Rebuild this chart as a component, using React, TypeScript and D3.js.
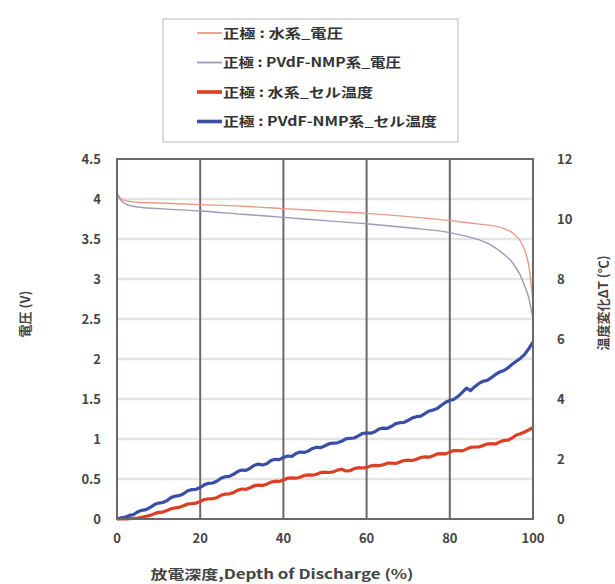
import React from "react";
import * as d3 from "d3";

// depth of discharge (%) for the voltage curves
const dodV = [0, 1, 2, 5, 10, 20, 30, 40, 50, 60, 70, 80, 85, 88, 90, 93, 95, 97, 98, 99, 99.5, 100];
const voltAqueous = [4.07, 4.0, 3.98, 3.96, 3.95, 3.93, 3.91, 3.88, 3.85, 3.82, 3.78, 3.73, 3.7, 3.68, 3.67, 3.63, 3.58, 3.47, 3.36, 3.16, 2.96, 2.7];
const voltPvdf = [4.07, 3.98, 3.94, 3.9, 3.88, 3.85, 3.81, 3.77, 3.73, 3.69, 3.64, 3.58, 3.52, 3.47, 3.42, 3.31, 3.21, 3.04, 2.91, 2.76, 2.64, 2.5];

// depth of discharge (%) for the temperature curves, every 1 %
const dodT = d3.range(0, 101, 1);
const tempAqueous = [
  0, 0, 0, 0.01, 0.02, 0.03, 0.06, 0.09, 0.12, 0.18, 0.22, 0.23, 0.28, 0.34, 0.37, 0.39, 0.44, 0.5, 0.51, 0.53,
  0.58, 0.65, 0.67, 0.68, 0.71, 0.79, 0.83, 0.84, 0.88, 0.96, 1.0, 0.99, 1.04, 1.11, 1.13, 1.12, 1.16, 1.23, 1.26, 1.25,
  1.3, 1.36, 1.37, 1.36, 1.39, 1.45, 1.47, 1.46, 1.49, 1.55, 1.56, 1.55, 1.57, 1.63, 1.66, 1.6, 1.61, 1.68, 1.71, 1.7,
  1.72, 1.77, 1.79, 1.78, 1.81, 1.86, 1.86, 1.85, 1.9, 1.95, 1.96, 1.95, 1.99, 2.05, 2.07, 2.06, 2.11, 2.17, 2.18, 2.17,
  2.23, 2.28, 2.28, 2.27, 2.33, 2.39, 2.4, 2.4, 2.45, 2.5, 2.51, 2.5, 2.57, 2.62, 2.63, 2.7, 2.8, 2.84, 2.9, 2.97, 3.05,
];
const tempPvdf = [
  0, 0.04, 0.06, 0.12, 0.15, 0.24, 0.29, 0.31, 0.39, 0.48, 0.53, 0.55, 0.61, 0.72, 0.76, 0.78, 0.84, 0.94, 0.98, 0.99,
  1.05, 1.14, 1.19, 1.2, 1.26, 1.36, 1.41, 1.42, 1.49, 1.58, 1.63, 1.62, 1.69, 1.79, 1.83, 1.8, 1.84, 1.95, 1.99, 1.98,
  2.05, 2.1, 2.09, 2.18, 2.23, 2.22, 2.27, 2.35, 2.39, 2.38, 2.44, 2.51, 2.53, 2.54, 2.59, 2.67, 2.69, 2.7, 2.77, 2.85,
  2.87, 2.86, 2.91, 3.0, 3.03, 3.02, 3.09, 3.18, 3.21, 3.22, 3.29, 3.37, 3.41, 3.43, 3.51, 3.6, 3.63, 3.68, 3.79, 3.89,
  3.95, 3.99, 4.09, 4.22, 4.36, 4.28, 4.41, 4.52, 4.59, 4.62, 4.71, 4.82, 4.9, 4.95, 5.04, 5.16, 5.26, 5.36, 5.49, 5.68, 5.9,
];

const xTicks = [0, 20, 40, 60, 80, 100];
const yTicks = [0, 0.5, 1, 1.5, 2, 2.5, 3, 3.5, 4, 4.5];
const y2Ticks = [0, 2, 4, 6, 8, 10, 12];

const legendLabels = [
  "正極 : 水系_電圧",
  "正極 : PVdF-NMP系_電圧",
  "正極 : 水系_セル温度",
  "正極 : PVdF-NMP系_セル温度",
];
const legendWidths = [120, 178, 150, 214];

const colors = ["#e99a86", "#9c9ab8", "#dc3f24", "#3a4ea6"];
const widths = [1.4, 1.4, 3.2, 3.2];

const W = 615;
const H = 584;
const m = { left: 117, right: 533, top: 159, bottom: 519 };
const font = "'Noto Sans CJK JP', 'Liberation Sans', sans-serif";

export default function App() {
  const x = d3.scaleLinear().domain([0, 100]).range([m.left, m.right]);
  const y = d3.scaleLinear().domain([0, 4.5]).range([m.bottom, m.top]);
  const y2 = d3.scaleLinear().domain([0, 12]).range([m.bottom, m.top]);

  const vLine = d3
    .line<number>()
    .x((_, i) => x(dodV[i]))
    .y((d) => y(d))
    .curve(d3.curveMonotoneX);
  const tLine = d3
    .line<number>()
    .x((_, i) => x(dodT[i]))
    .y((d) => y2(d));

  const paths = [vLine(voltAqueous), vLine(voltPvdf), tLine(tempAqueous), tLine(tempPvdf)];

  return (
    <svg width={W} height={H} style={{ position: "absolute", left: 0, top: 0, background: "#fff" }}>
      {/* legend */}
      <rect x={163} y={19} width={295} height={123} fill="#fff" stroke="#d0d0d0" strokeWidth={1.5} />
      {legendLabels.map((t, i) => (
        <g key={t} transform={`translate(0,${33 + i * 29.5})`}>
          <line x1={197} x2={222} y1={0} y2={0} stroke={colors[i]} strokeWidth={widths[i] + 0.4} />
          <text
            x={223}
            y={0}
            dy="0.35em"
            fontFamily={font}
            fontSize={13}
            fontWeight={700}
            fill="#333"
            textLength={legendWidths[i]}
            lengthAdjust="spacingAndGlyphs"
          >
            {t}
          </text>
        </g>
      ))}

      {/* horizontal grid */}
      {yTicks.slice(1, -1).map((t) => (
        <line key={t} x1={m.left} x2={m.right} y1={y(t)} y2={y(t)} stroke="#e4e4e4" strokeWidth={2.5} />
      ))}
      {/* vertical grid */}
      {xTicks.slice(1, -1).map((t) => (
        <line key={t} x1={x(t)} x2={x(t)} y1={m.top} y2={m.bottom} stroke="#6f6767" strokeWidth={2} />
      ))}

      {paths.map((p, i) => (
        <path
          key={i}
          d={p ?? ""}
          fill="none"
          stroke={colors[i]}
          strokeWidth={widths[i]}
          strokeLinejoin="round"
        />
      ))}

      <rect
        x={m.left}
        y={m.top}
        width={m.right - m.left}
        height={m.bottom - m.top}
        fill="none"
        stroke="#6f6767"
        strokeWidth={2}
      />

      <g fontFamily={font} fontSize={13} fontWeight={700} fill="#444">
        {yTicks.map((t) => (
          <text key={t} x={101} y={y(t)} dy="0.35em" textAnchor="end">
            {t}
          </text>
        ))}
        {y2Ticks.map((t) => (
          <text key={t} x={557} y={y2(t)} dy="0.35em" textAnchor="start">
            {t}
          </text>
        ))}
        {xTicks.map((t) => (
          <text key={t} x={x(t)} y={538} dy="0.35em" textAnchor="middle">
            {t}
          </text>
        ))}
        <text x={0} y={0} dy="0.35em" textAnchor="middle" transform="translate(25,314) rotate(-90)">
          電圧 (V)
        </text>
        <text x={0} y={0} dy="0.35em" textAnchor="middle" transform="translate(603,303) rotate(-90)">
          温度変化ΔT (℃)
        </text>
        <text x={282} y={574} dy="0.35em" textAnchor="middle" textLength={263} lengthAdjust="spacingAndGlyphs">
          放電深度,Depth of Discharge (%)
        </text>
      </g>
    </svg>
  );
}
